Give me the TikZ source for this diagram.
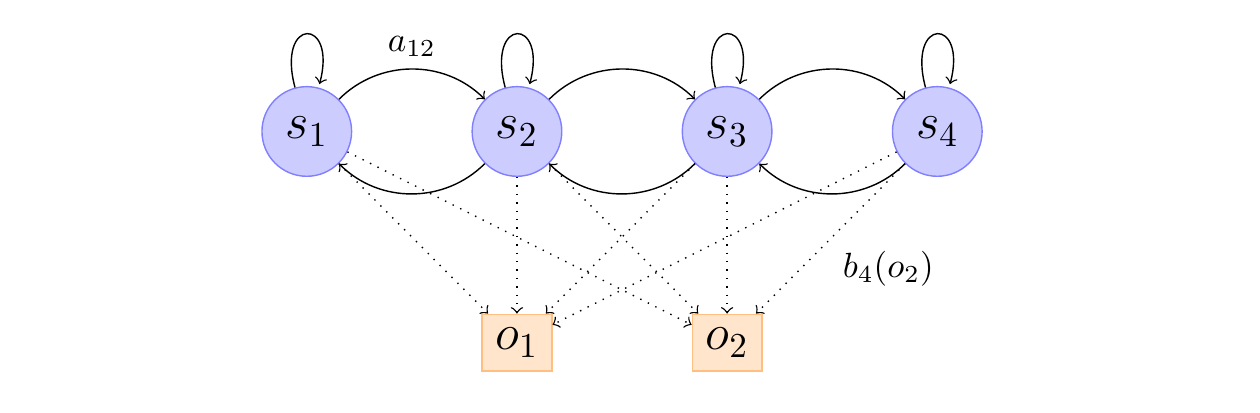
\documentclass[tikz,border=0pt]{standalone}
\begin{document}
\begin{tikzpicture}[->, auto]
    \tikzset{state/.style={circle, draw=blue!50, fill=blue!20, minimum size=0.9cm, inner sep=1pt, font=\Large},
             obs/.style={rectangle, draw=orange!50, fill=orange!20, minimum width=0.7cm, minimum height=0.57cm, inner sep=1pt, font=\Large}}
    \useasboundingbox (-3.08,-2.82) rectangle (9.57,1.32);
    % hidden states
    \foreach \i in {1,...,4}
        \node [state] (s\i) at ({2.11*(\i-1)},0) {$s_\i$};
    % observations
    \node [obs] (o1) at (2.11,-2.12) {$o_1$};
    \node [obs] (o2) at (4.22,-2.12) {$o_2$};
    % transitions
    \path (s1) edge [loop above] (s1)
               edge [bend left=45] node {$a_{12}$} (s2)
          (s2) edge [loop above] (s2)
               edge [bend left=45] (s1)
               edge [bend left=45] (s3)
          (s3) edge [loop above] (s3)
               edge [bend left=45] (s2)
               edge [bend left=45] (s4)
          (s4) edge [loop above] (s4)
               edge [bend left=45] (s3);
    % emissions
    \foreach \i in {1,...,3}
        \draw [dotted] (s\i) -- (o1);
    \foreach \i in {1,...,3}
        \draw [dotted] (s\i) -- (o2);
    \draw [dotted] (s4) -- (o1);
    \draw [dotted] (s4) -- node {$b_4(o_2)$} (o2);
\end{tikzpicture}
\end{document}
